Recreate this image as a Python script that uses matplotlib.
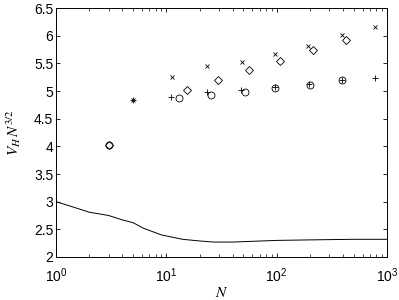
import matplotlib
matplotlib.use("Agg")
import matplotlib.pyplot as plt
from matplotlib.ticker import FixedLocator, FuncFormatter, LogLocator, NullFormatter

plt.rcParams['font.family'] = ['Liberation Sans', 'DejaVu Sans']
plt.rcParams['mathtext.fontset'] = 'stix'

# Series data
x_N = [5, 11.2, 23.2, 48.2, 96.7, 194, 389, 780]
x_V = [4.83, 5.26, 5.46, 5.53, 5.66, 5.81, 6.01, 6.16]

plus_N = [5, 11, 23.2, 48, 97, 197, 394, 780]
plus_V = [4.83, 4.89, 4.99, 5.02, 5.08, 5.12, 5.20, 5.23]

circ_N = [3, 13.1, 25.3, 51.7, 97, 200, 394]
circ_V = [4.03, 4.87, 4.92, 4.99, 5.05, 5.11, 5.19]

diam_N = [3, 15.3, 29.6, 56.2, 107, 212, 426]
diam_V = [4.03, 5.02, 5.20, 5.38, 5.55, 5.74, 5.92]

line_N = [1, 1.5, 2, 3, 4, 5, 6.2, 9, 14, 20, 27, 40, 54, 100, 215, 500, 1000]
line_V = [3.0, 2.89, 2.81, 2.75, 2.67, 2.62, 2.52, 2.40, 2.32, 2.29, 2.27, 2.27, 2.28, 2.30, 2.31, 2.32, 2.32]

yticks = [2, 2.5, 3, 3.5, 4, 4.5, 5, 5.5, 6, 6.5]

fig = plt.figure(figsize=(3.99, 3.0), dpi=100)
ax = fig.add_axes([56/399, 1-257/300, (387-56)/399, (257-8)/300])

ax.plot(line_N, line_V, color='black', lw=0.7)
ax.plot(x_N, x_V, ls='none', marker='x', ms=3.5, mew=0.6, color='black')
ax.plot(plus_N, plus_V, ls='none', marker='+', ms=5, mew=0.6, color='black')
ax.plot(circ_N, circ_V, ls='none', marker='o', ms=5, mew=0.6, mfc='none', color='black')
ax.plot(diam_N, diam_V, ls='none', marker='D', ms=4.5, mew=0.6, mfc='none', color='black')

ax.set_xscale('log')
ax.set_xlim(1, 1000)
ax.set_ylim(2, 6.5)
ax.yaxis.set_major_locator(FixedLocator(yticks))
ax.yaxis.set_major_formatter(FuncFormatter(lambda v, p: ('%g' % v)))
ax.xaxis.set_major_locator(LogLocator(base=10, numticks=10))
ax.xaxis.set_minor_locator(LogLocator(base=10, subs=range(2, 10), numticks=20))
ax.xaxis.set_minor_formatter(NullFormatter())

ax.tick_params(which='both', direction='in', top=True, right=True, labelsize=10)
ax.tick_params(axis='x', pad=6.5)
ax.tick_params(axis='y', pad=2)
ax.tick_params(which='major', length=3, width=0.6)
ax.tick_params(which='minor', length=2, width=0.5)
for s in ax.spines.values():
    s.set_linewidth(0.7)

ax.set_xlabel('$N$', fontsize=11, labelpad=1)
ax.set_ylabel('$V_H\\, N^{3/2}$', fontsize=11, labelpad=8)

fig.savefig('out.png', dpi=100)
